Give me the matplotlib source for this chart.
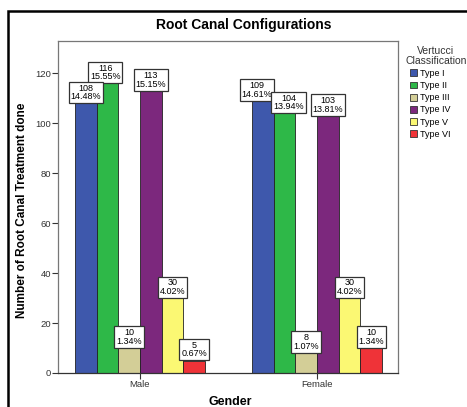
import matplotlib
matplotlib.use("Agg")
import matplotlib.pyplot as plt
import numpy as np
from matplotlib.patches import Rectangle, Patch

genders = ["Male", "Female"]
types = ["Type I", "Type II", "Type III", "Type IV", "Type V", "Type VI"]
male_counts = [108, 116, 10, 113, 30, 5]
female_counts = [109, 104, 8, 103, 30, 10]
male_pct = ["14.48%", "15.55%", "1.34%", "15.15%", "4.02%", "0.67%"]
female_pct = ["14.61%", "13.94%", "1.07%", "13.81%", "4.02%", "1.34%"]
colors = ["#3E58AC", "#2EB848", "#D3CE97", "#7C287D", "#FBF873", "#EF3338"]
yticks = [0, 20, 40, 60, 80, 100, 120]

plt.rcParams["font.family"] = ["Liberation Sans", "DejaVu Sans"]

W, H = 467, 407
fig = plt.figure(figsize=(W / 100, H / 100), dpi=100)
ax = fig.add_axes([58 / W, 1 - 373 / H, (398 - 58) / W, (373 - 41) / H])

# small sideways nudges (points) so neighbouring boxes stay readable
nudge = {(1, 0): -4.0, (1, 1): 3.0, (0, 1): -1.5}

x = np.arange(len(genders))
width = 0.1225
counts = [male_counts, female_counts]
pcts = [male_pct, female_pct]
for i, t in enumerate(types):
    pos = x + (i - 2.5) * width
    vals = [c[i] for c in counts]
    ax.bar(pos, vals, width, color=colors[i], edgecolor="#222222", linewidth=0.6, zorder=2)
    for g in range(len(genders)):
        # lower boxes sit on top where they overlap
        ax.annotate(f"{vals[g]}\n{pcts[g][i]}", (pos[g], vals[g]),
                    xytext=(nudge.get((g, i), 0), 1.5), textcoords="offset points",
                    ha="center", va="bottom", fontsize=6.5, linespacing=0.95,
                    bbox=dict(boxstyle="square,pad=0.2", fc="white", ec="#333333", lw=0.9),
                    zorder=10 - vals[g] / 100)

ax.set_xlim(-0.463, 1.458)
ax.set_ylim(0, 133)
ax.set_yticks(yticks)
ax.set_xticks(x)
ax.set_xticklabels(genders)
ax.tick_params(axis="both", labelsize=6.8, length=4, width=0.8, colors="#333333", pad=1)
for s in ax.spines.values():
    s.set_color("#777777")
    s.set_linewidth(0.9)
ax.spines["bottom"].set_color("#333333")

fig.text(244 / W, 1 - 25 / H, "Root Canal Configurations", ha="center", va="center",
         fontsize=10, fontweight="bold")
fig.text(22 / W, 1 - 210 / H, "Number of Root Canal Treatment done", rotation=90,
         ha="center", va="center", fontsize=8.5, fontweight="bold")
fig.text(230 / W, 1 - 402 / H, "Gender", ha="center", va="center",
         fontsize=9, fontweight="bold")

fig.text(436 / W, 1 - 56 / H, "Vertucci\nClassification", ha="center", va="center",
         fontsize=7.5, linespacing=1.0, color="#333333")
handles = [Patch(facecolor=c, edgecolor="#333333", linewidth=0.6) for c in colors]
fig.legend(handles, types, loc="upper left", bbox_to_anchor=(410 / W, 1 - 69 / H),
           frameon=False, fontsize=6.5, handlelength=0.8, handleheight=0.8,
           handletextpad=0.3, labelspacing=0.35, borderpad=0, borderaxespad=0)

fig.patches.append(Rectangle((8 / W, -0.1), 1.2, 1 - 11 / H + 0.1, transform=fig.transFigure,
                             fill=False, ec="black", lw=1.8))

fig.savefig("out.png", dpi=100)
